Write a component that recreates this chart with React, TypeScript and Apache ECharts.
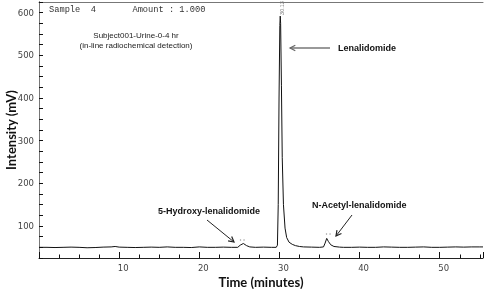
import React, { useEffect, useRef } from "react";
import * as echarts from "echarts";

const times = [
  0, 1, 2, 3, 4, 5, 6, 7, 8, 9, 9.5, 10, 11, 12, 13, 14, 15, 16, 17, 18, 19, 20, 21, 22, 23, 24,
  24.8, 25.1, 25.5, 25.9, 26.3, 27, 28, 29, 29.6, 29.75, 29.85, 29.95, 30.05, 30.1, 30.15, 30.25,
  30.35, 30.5, 30.7, 30.9, 31.2, 31.6, 32, 32.5, 33, 34, 35, 35.5, 35.7, 35.9, 36.1, 36.4, 36.8,
  37.5, 38, 39, 40, 41, 42, 43, 44, 45, 46, 47, 48, 49, 50, 51, 52, 53, 54, 55, 55.4,
];
const intensity = [
  50, 50, 49.5, 50, 50.5, 50, 49, 49.5, 50.5, 51, 52, 50.5, 50, 49.5, 50, 50.5, 50, 51, 50, 50, 49.5, 51, 50, 50, 50.5, 50,
  50, 55, 59, 54, 51, 50, 50.5, 50, 50, 55, 150, 400, 570, 592, 575, 430,
  260, 150, 95, 73, 62, 57, 54, 52, 51, 50.5, 50, 51, 60, 71, 64, 56, 52,
  50.5, 50, 50, 50.5, 50, 50, 51, 50.5, 50, 50, 50.5, 51, 50, 50, 50.5, 51, 50.5, 51, 51, 51,
];

const sampleHeader = "Sample  4       Amount : 1.000";
const subtitleLines = ["Subject001-Urine-0-4 hr", "(in-line radiochemical detection)"];
const peakLabel = "30.13";
const annotations = ["Lenalidomide", "5-Hydroxy-lenalidomide", "N-Acetyl-lenalidomide"];

const ANN_FONT = "'Liberation Sans', Arial, sans-serif";
const TITLE_FONT = "Lato, 'Open Sans', sans-serif";
const TICK_FONT = "'DejaVu Sans', sans-serif";

function arrow(x1: number, y1: number, x2: number, y2: number, color: string, width: number, headColor?: string) {
  const dx = x2 - x1;
  const dy = y2 - y1;
  const len = Math.sqrt(dx * dx + dy * dy);
  const ux = dx / len;
  const uy = dy / len;
  const hl = 6;
  const ang = (28 * Math.PI) / 180;
  const cos = Math.cos(ang);
  const sin = Math.sin(ang);
  const ax = x2 - hl * (ux * cos - uy * sin);
  const ay = y2 - hl * (uy * cos + ux * sin);
  const bx = x2 - hl * (ux * cos + uy * sin);
  const by = y2 - hl * (uy * cos - ux * sin);
  return [
    { type: "line", z: 100, shape: { x1, y1, x2, y2 }, style: { stroke: color, lineWidth: width } },
    {
      type: "polyline",
      z: 100,
      shape: { points: [[ax, ay], [x2, y2], [bx, by]] },
      style: { stroke: headColor || color, lineWidth: 1.2, fill: null },
    },
  ];
}

function dots(xs: number[], y: number) {
  return xs.map((x) => ({ type: "circle", z: 100, shape: { cx: x, cy: y, r: 0.7 }, style: { fill: "#999" } }));
}

export default function App() {
  const ref = useRef<HTMLDivElement>(null);
  useEffect(() => {
    if (!ref.current) return;
    const chart = echarts.init(ref.current, undefined, { renderer: "svg" });
    const data = times.map((t, i) => [t, intensity[i]]);
    const frameAxis = {
      type: "value",
      axisLine: { show: true, lineStyle: { color: "#777", width: 1 } },
      axisTick: { show: false },
      axisLabel: { show: false },
      splitLine: { show: false },
    };
    chart.setOption({
      animation: false,
      grid: { left: 39, right: 1, top: 2, bottom: 31, outerBoundsMode: "none" },
      xAxis: [
        {
          type: "value",
          position: "bottom",
          min: 0,
          max: 55.4,
          interval: 10,
          name: "Time (minutes)",
          nameLocation: "middle",
          nameGap: 17,
          nameMoveOverlap: false,
          nameTextStyle: { fontFamily: TITLE_FONT, fontWeight: "bold", fontSize: 13, color: "#111" },
          axisLine: { show: true, lineStyle: { color: "#222", width: 1 } },
          axisTick: { show: true, inside: true, length: 6, lineStyle: { color: "#111", width: 1 } },
          minorTick: { show: true, splitNumber: 4, length: 3.5, lineStyle: { color: "#111", width: 1 } },
          splitLine: { show: false },
          minorSplitLine: { show: false },
          axisLabel: {
            show: true,
            margin: 5,
            fontFamily: TICK_FONT,
            fontSize: 8.5,
            color: "#444",
            padding: [0, 0, 0, 8],
            formatter: (v: number) => (v % 10 === 0 && v !== 0 ? String(v) : ""),
          },
        },
        { ...frameAxis, position: "top", min: 0, max: 55.4 },
      ],
      yAxis: [
        {
          type: "value",
          position: "left",
          min: 25,
          max: 625,
          interval: 25,
          name: "Intensity (mV)",
          nameLocation: "middle",
          nameGap: 22,
          nameRotate: 90,
          nameMoveOverlap: false,
          nameTextStyle: { fontFamily: TITLE_FONT, fontWeight: "bold", fontSize: 13, color: "#111" },
          axisLine: { show: true, lineStyle: { color: "#222", width: 1 } },
          axisTick: { show: true, inside: true, length: 4, lineStyle: { color: "#111", width: 1 } },
          splitLine: { show: false },
          axisLabel: {
            show: true,
            margin: 5,
            fontFamily: TICK_FONT,
            fontSize: 8.5,
            color: "#444",
            formatter: (v: number) => (v % 100 === 0 ? String(v) : ""),
          },
        },
        { ...frameAxis, position: "right", min: 25, max: 625 },
      ],
      series: [
        {
          type: "line",
          xAxisIndex: 0,
          yAxisIndex: 0,
          data,
          showSymbol: false,
          lineStyle: { color: "#111", width: 1 },
          silent: true,
        },
      ],
      graphic: [
        {
          type: "text",
          x: 49,
          y: 10,
          z: 100,
          style: { text: sampleHeader, fontFamily: "'Liberation Mono', 'DejaVu Sans Mono', monospace", fontSize: 8.7, fill: "#333", verticalAlign: "middle" },
        },
        {
          type: "text",
          x: 136,
          y: 35,
          z: 100,
          style: { text: subtitleLines[0], fontFamily: ANN_FONT, fontSize: 8, fill: "#222", align: "center", verticalAlign: "middle" },
        },
        {
          type: "text",
          x: 136,
          y: 45,
          z: 100,
          style: { text: subtitleLines[1], fontFamily: ANN_FONT, fontSize: 8, fill: "#222", align: "center", verticalAlign: "middle" },
        },
        {
          type: "text",
          x: 282,
          y: 8,
          z: 100,
          rotation: Math.PI / 2,
          style: { text: peakLabel, fontFamily: ANN_FONT, fontSize: 5.5, fill: "#777", align: "center", verticalAlign: "middle" },
        },
        {
          type: "text",
          x: 338,
          y: 48,
          z: 100,
          style: { text: annotations[0], fontFamily: ANN_FONT, fontWeight: "bold", fontSize: 9, fill: "#111", verticalAlign: "middle" },
        },
        {
          type: "text",
          x: 158,
          y: 211,
          z: 100,
          style: { text: annotations[1], fontFamily: ANN_FONT, fontWeight: "bold", fontSize: 9, fill: "#111", verticalAlign: "middle" },
        },
        {
          type: "text",
          x: 312,
          y: 205,
          z: 100,
          style: { text: annotations[2], fontFamily: ANN_FONT, fontWeight: "bold", fontSize: 9, fill: "#111", verticalAlign: "middle" },
        },
        ...dots([240.5, 244], 240),
        ...dots([326.5, 330], 234),
        ...arrow(330, 48, 290, 48, "#999", 2, "#666"),
        ...arrow(207, 220, 234, 242, "#222", 1),
        ...arrow(352, 215, 336, 236, "#222", 1),
      ],
    });
    return () => chart.dispose();
  }, []);
  return <div ref={ref} style={{ position: "fixed", left: 0, top: 0, width: 484, height: 289 }} />;
}
